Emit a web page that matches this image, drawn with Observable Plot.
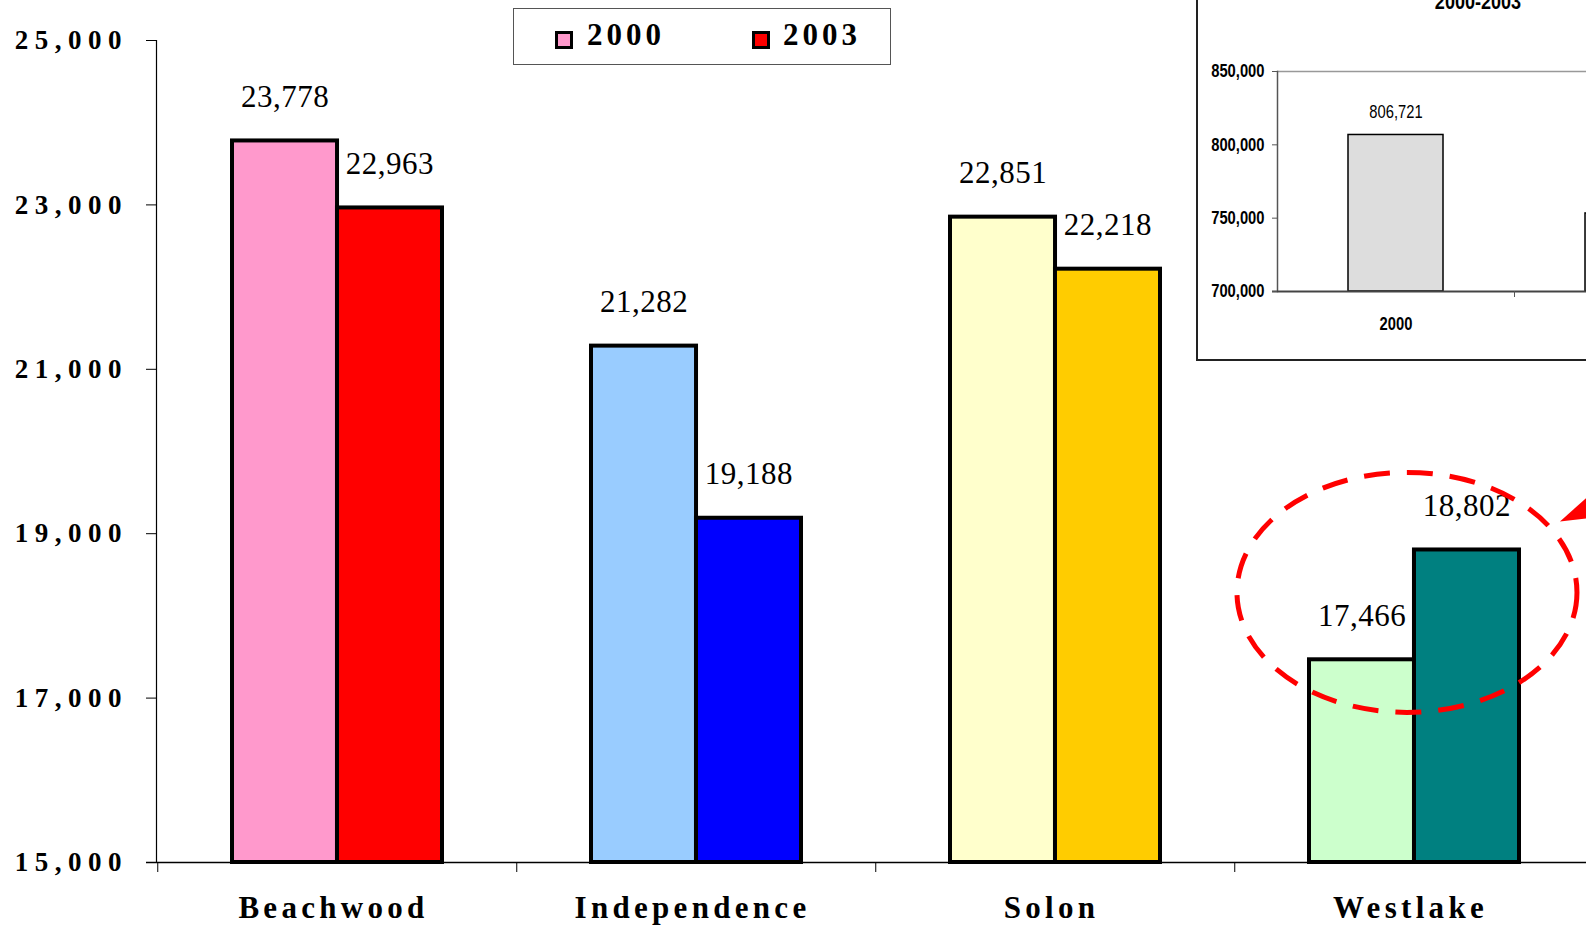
<!DOCTYPE html>
<html>
<head>
<meta charset="utf-8">
<script src="https://cdn.jsdelivr.net/npm/d3@7"></script>
<script src="https://cdn.jsdelivr.net/npm/@observablehq/plot@0.6"></script>
<style>
  html, body { margin: 0; padding: 0; background: #fff; overflow: hidden; }
  #wrap { position: relative; width: 1586px; height: 925px; overflow: hidden; }
  .main g[aria-label="y-axis tick label"] text { letter-spacing: 6.5px; }
  .main g[aria-label="x-axis tick label"] text { letter-spacing: 4.3px; }
  .main g[aria-label="text"] text { letter-spacing: 0.5px; }
  .legend { position: absolute; left: 513px; top: 8px; width: 378px; height: 57px; border: 1px solid #555; box-sizing: border-box; background: #fff; }
  .legend .sw { position: absolute; width: 18px; height: 18px; border: 3.5px solid #000; box-sizing: border-box; }
  .legend .lt { position: absolute; font: bold 31px "Liberation Serif", "Times New Roman", serif; line-height: 31px; letter-spacing: 4px; color: #000; }
  .insetbox { position: absolute; left: 1196px; top: -100px; width: 800px; height: 461px; border: 2px solid #222; box-sizing: border-box; background: #fff; }
  .insettitle { position: absolute; left: 1378px; width: 200px; top: -9px; text-align: center; font: bold 22px "Liberation Sans", Arial, sans-serif; line-height: 22px; color: #000; transform: scaleX(0.82); transform-origin: 50% 50%; }
</style>
</head>
<body>
<div id="wrap"></div>
<script>
// ---- Data ----
const cities = ["Beachwood", "Independence", "Solon", "Westlake"];
const pop2000 = [23778, 21282, 22851, 17466];
const pop2003 = [22963, 19188, 22218, 18802];
const colors2000 = ["#FF99CC", "#99CCFF", "#FFFFCC", "#CCFFCC"];
const colors2003 = ["#FF0000", "#0000FF", "#FFCC00", "#008080"];
const yTicks = [15000, 17000, 19000, 21000, 23000, 25000];
const legendYears = ["2000", "2003"];
const legendColors = ["#FF99CC", "#FF0000"];

const insetTitle = "2000-2003";
const insetYears = ["2000", "2003"];
const insetValues = [806721, 753200];
const insetTicks = [700000, 750000, 800000, 850000];

const highlightCity = "Westlake";
const highlightValue = 18280;

// ---- Build ----
const fmt = d3.format(",");
const rows = cities.map((c, i) => ({city: c, v2000: pop2000[i], v2003: pop2003[i], c2000: colors2000[i], c2003: colors2003[i]}));
const wrap = document.getElementById("wrap");

const xRange = [156, 1594], pi = 0.416, po = 0.208;
const step = (xRange[1] - xRange[0]) / (cities.length - pi + 2 * po);
const bw = step * (1 - pi);

const main = Plot.plot({
  className: "main",
  width: 1586, height: 925,
  marginLeft: 156, marginRight: 0, marginTop: 40, marginBottom: 63,
  style: {fontFamily: "'Liberation Serif', 'Times New Roman', serif", background: "transparent", color: "#000", overflow: "visible"},
  x: {domain: cities, range: xRange, paddingInner: pi, paddingOuter: po, label: null},
  y: {domain: [15000, 25000], label: null},
  color: {type: "identity"},
  marks: [
    Plot.barY(rows, {x: "city", y1: 15000, y2: "v2000", fill: "c2000", stroke: "#000", strokeWidth: 4, insetRight: bw / 2}),
    Plot.barY(rows, {x: "city", y1: 15000, y2: "v2003", fill: "c2003", stroke: "#000", strokeWidth: 4, insetLeft: bw / 2}),
    Plot.text(rows, {x: "city", y: "v2000", text: d => fmt(d.v2000), dx: -bw / 4, dy: -34, lineAnchor: "bottom", fontSize: 31, fill: "#000"}),
    Plot.text(rows, {x: "city", y: "v2003", text: d => fmt(d.v2003), dx: bw / 4, dy: -34, lineAnchor: "bottom", fontSize: 31, fill: "#000"}),
    Plot.frame({anchor: "left", stroke: "#000", strokeWidth: 1.2}),
    Plot.ruleY([15000], {stroke: "#000", strokeWidth: 1.5, insetLeft: -10}),
    Plot.axisY({ticks: yTicks, tickSize: 10, tickPadding: 18.5, tickFormat: fmt, fontSize: 27, fontWeight: "bold", stroke: "#000", label: null}),
    Plot.axisX({text: null, tickSize: 10, dx: -step / 2, stroke: "#000", label: null}),
    Plot.axisX({tickSize: 0, tickPadding: 33, dx: -4, fontSize: 31, fontWeight: "bold", label: null})
  ]
});
wrap.appendChild(main);

// Highlight annotation (dashed ellipse + arrowhead) positioned through the chart's scales
const sx = main.scale("x"), sy = main.scale("y");
const cx = sx.apply(highlightCity) + bw / 2 - 7;
const cy = sy.apply(highlightValue);
const svgSel = d3.select(main);
svgSel.append("ellipse")
  .attr("cx", cx).attr("cy", cy).attr("rx", 170).attr("ry", 120)
  .attr("fill", "none").attr("stroke", "#FF0000").attr("stroke-width", 5)
  .attr("stroke-dasharray", "26 17");
svgSel.append("polygon")
  .attr("points", [[cx + 153, cy - 71], [cx + 180, cy - 95], [cx + 180, cy - 74]].map(p => p.join(",")).join(" "))
  .attr("fill", "#FF0000");

// Legend
const legend = document.createElement("div");
legend.className = "legend";
legendYears.forEach((y, i) => {
  const sw = document.createElement("div");
  sw.className = "sw";
  sw.style.left = (41 + i * 197) + "px";
  sw.style.top = "22px";
  sw.style.background = legendColors[i];
  legend.appendChild(sw);
  const t = document.createElement("div");
  t.className = "lt";
  t.style.left = (73 + i * 196) + "px";
  t.style.top = "10px";
  t.textContent = y;
  legend.appendChild(t);
});
wrap.appendChild(legend);

// Inset chart
const box = document.createElement("div");
box.className = "insetbox";
wrap.appendChild(box);

const insetRows = insetYears.map((y, i) => ({year: y, value: insetValues[i]}));
const iRange = [81, 555], ipi = 0.6, ipo = 0.3;
const istep = (iRange[1] - iRange[0]) / (insetYears.length - ipi + 2 * ipo);
const inset = Plot.plot({
  className: "inset",
  width: 700, height: 360,
  marginLeft: 81, marginRight: 0, marginTop: 71, marginBottom: 69,
  style: {fontFamily: "'Liberation Sans', Arial, sans-serif", background: "transparent", color: "#000", overflow: "visible"},
  x: {domain: insetYears, range: iRange, paddingInner: ipi, paddingOuter: ipo, label: null},
  y: {domain: [700000, 850000], label: null},
  marks: [
    Plot.ruleY([850000], {stroke: "#999", strokeWidth: 1.5}),
    Plot.barY(insetRows, {x: "year", y1: 700000, y2: "value", fill: "#DDDDDD", stroke: "#000", strokeWidth: 1.5}),
    Plot.text(insetRows, {x: "year", y: "value", text: d => fmt(d.value), dy: -17, lineAnchor: "bottom", fontSize: 18, fill: "#000"}),
    Plot.frame({anchor: "left", stroke: "#555", strokeWidth: 1.5}),
    Plot.ruleY([700000], {stroke: "#444", strokeWidth: 2, insetLeft: -5}),
    Plot.axisY({ticks: insetTicks, tickSize: 5, tickPadding: 8, tickFormat: fmt, fontSize: 18, fontWeight: "bold", stroke: "#555", label: null}),
    Plot.axisX({text: null, tickSize: 6, dx: istep / 2, stroke: "#555", label: null}),
    Plot.axisX({tickSize: 0, tickPadding: 26, fontSize: 18, fontWeight: "bold", label: null})
  ]
});
inset.style.position = "absolute";
inset.style.left = "1196px";
inset.style.top = "0px";
wrap.appendChild(inset);

// Narrow the inset texts horizontally (Arial Narrow look) around their anchor points
d3.select(inset).selectAll("text").each(function() {
  const b = this.getBBox();
  const anchor = getComputedStyle(this).textAnchor;
  const lx = anchor === "end" ? b.x + b.width : anchor === "middle" ? b.x + b.width / 2 : b.x;
  const tb = this.transform && this.transform.baseVal && this.transform.baseVal.numberOfItems
    ? this.transform.baseVal.consolidate().matrix : null;
  const ax = tb ? tb.a * lx + tb.e : lx;
  const parent = this.parentNode;
  const g = document.createElementNS("http://www.w3.org/2000/svg", "g");
  g.setAttribute("transform", `translate(${ax},0) scale(0.82,1) translate(${-ax},0)`);
  parent.insertBefore(g, this);
  g.appendChild(this);
});

const title = document.createElement("div");
title.className = "insettitle";
title.textContent = insetTitle;
wrap.appendChild(title);
</script>
</body>
</html>
